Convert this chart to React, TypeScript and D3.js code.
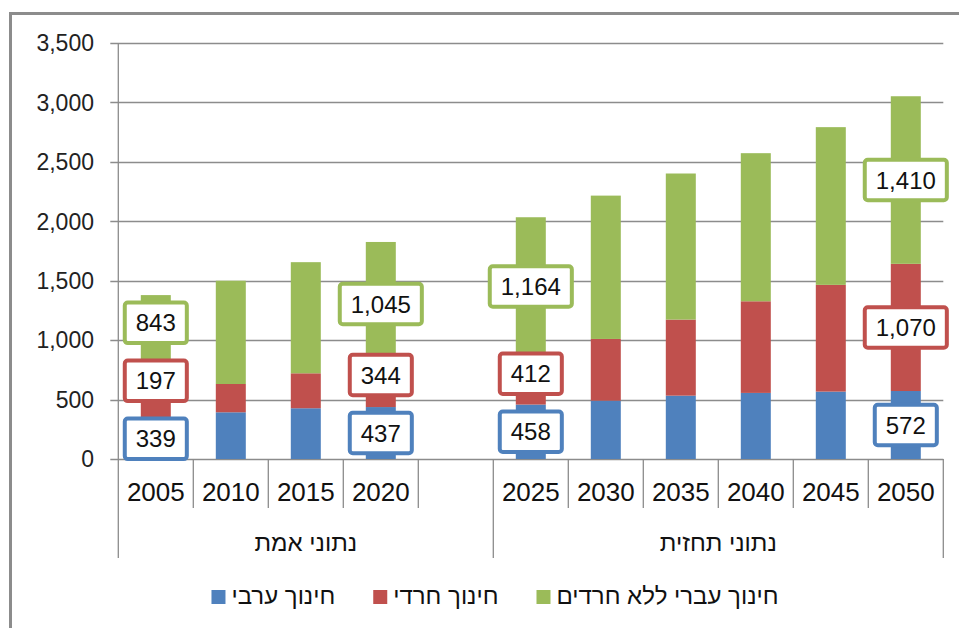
import React, { useEffect, useRef } from "react";
import * as d3 from "d3";

// categories ("" = empty slot between the two groups)
const years = ["2005", "2010", "2015", "2020", "", "2025", "2030", "2035", "2040", "2045", "2050"];
const arabEdu = [339, 393, 427, 437, null, 458, 491, 533, 556, 567, 572];
const harediEdu = [197, 238, 294, 344, null, 412, 519, 640, 771, 898, 1070];
const hebrewEdu = [843, 869, 935, 1045, null, 1164, 1206, 1229, 1246, 1327, 1410];
const labeledYears = ["2005", "2020", "2025", "2050"];

const groupNames = ["נתוני אמת", "נתוני תחזית"];
const groupSizes = [5, 6];

const seriesNames = ["חינוך ערבי", "חינוך חרדי", "חינוך עברי ללא חרדים"];
const seriesColors = ["#4F81BD", "#C0504D", "#9BBB59"];
const yTicks = [0, 500, 1000, 1500, 2000, 2500, 3000, 3500];

const W = 959;
const H = 628;
const FONT = "'Liberation Sans', Arial, 'DejaVu Sans', sans-serif";

const App = () => {
  const ref = useRef<SVGSVGElement>(null);

  useEffect(() => {
    const svg = d3.select(ref.current);
    svg.selectAll("*").remove();

    const left = 118.3;
    const right = 943.3;
    const top = 43;
    const bottom = 459;

    const y = d3.scaleLinear().domain([0, 3500]).range([bottom, top]);
    const x = d3
      .scaleBand<number>()
      .domain(d3.range(years.length))
      .range([left, right])
      .paddingInner(0.6)
      .paddingOuter(0.3);
    const step = x.step();
    const fmt = d3.format(",");
    const grey = "#8c8c8c";

    // outer frame
    svg
      .append("rect")
      .attr("x", 10.5)
      .attr("y", 13.5)
      .attr("width", W + 20)
      .attr("height", H + 20)
      .attr("fill", "white")
      .attr("stroke", grey)
      .attr("stroke-width", 3);

    // gridlines + y labels
    yTicks.forEach((t) => {
      svg
        .append("line")
        .attr("x1", left - 8)
        .attr("x2", right)
        .attr("y1", Math.round(y(t)) + 0.5)
        .attr("y2", Math.round(y(t)) + 0.5)
        .attr("stroke", grey)
        .attr("stroke-width", 1.3);
      svg
        .append("text")
        .attr("x", 94)
        .attr("y", y(t))
        .attr("dy", "0.36em")
        .attr("text-anchor", "end")
        .style("font-family", FONT)
        .style("font-size", "23px")
        .style("fill", "#222")
        .text(fmt(t));
    });

    // stacked bars
    const series = [arabEdu, harediEdu, hebrewEdu];
    years.forEach((yr, i) => {
      if (arabEdu[i] == null) return;
      let base = 0;
      series.forEach((s, k) => {
        const v = s[i] as number;
        svg
          .append("rect")
          .attr("x", x(i)!)
          .attr("width", x.bandwidth())
          .attr("y", y(base + v))
          .attr("height", y(base) - y(base + v))
          .attr("fill", seriesColors[k]);
        base += v;
      });
    });

    // y axis line (extends down through category rows)
    svg
      .append("line")
      .attr("x1", left)
      .attr("x2", left)
      .attr("y1", top)
      .attr("y2", 558)
      .attr("stroke", grey)
      .attr("stroke-width", 1.3);

    // category separators
    let acc = 0;
    const groupEdges = [0];
    groupSizes.forEach((g) => {
      acc += g;
      groupEdges.push(acc);
    });
    d3.range(1, years.length).forEach((i) => {
      const long = groupEdges.includes(i);
      svg
        .append("line")
        .attr("x1", left + i * step)
        .attr("x2", left + i * step)
        .attr("y1", bottom)
        .attr("y2", long ? 558 : 508)
        .attr("stroke", grey)
        .attr("stroke-width", 1.3);
    });
    svg
      .append("line")
      .attr("x1", right)
      .attr("x2", right)
      .attr("y1", bottom)
      .attr("y2", 558)
      .attr("stroke", grey)
      .attr("stroke-width", 1.3);

    // category labels
    years.forEach((yr, i) => {
      svg
        .append("text")
        .attr("x", x(i)! + x.bandwidth() / 2)
        .attr("y", 501)
        .attr("text-anchor", "middle")
        .style("font-family", FONT)
        .style("font-size", "26px")
        .style("fill", "#111")
        .text(yr);
    });

    // group labels
    groupNames.forEach((g, gi) => {
      const x0 = left + groupEdges[gi] * step;
      const x1 = left + groupEdges[gi + 1] * step;
      svg
        .append("text")
        .attr("x", (x0 + x1) / 2)
        .attr("y", 551)
        .attr("text-anchor", "middle")
        .style("font-family", FONT)
        .style("font-size", "24px")
        .style("fill", "#111")
        .text(g);
    });

    // data labels
    labeledYears.forEach((yr) => {
      const i = years.indexOf(yr);
      const vals = series.map((s) => s[i] as number);
      const cx = x(i)! + x.bandwidth() / 2;
      const centers: number[] = [];
      let base = 0;
      vals.forEach((v, k) => {
        let c = y(base + v / 2);
        if (k > 0) c = Math.min(c, centers[k - 1] - 58);
        centers.push(c);
        base += v;
      });
      vals.forEach((v, k) => {
        const g = svg.append("g");
        const rect = g.append("rect");
        const txt = g
          .append("text")
          .attr("x", cx)
          .attr("y", centers[k])
          .attr("dy", "0.36em")
          .attr("text-anchor", "middle")
          .style("font-family", FONT)
          .style("font-size", "24px")
          .style("fill", "#111")
          .text(fmt(v));
        const tw = (txt.node() as SVGTextElement).getComputedTextLength();
        const bw = tw + 22;
        const bh = 40.5;
        rect
          .attr("x", cx - bw / 2)
          .attr("y", centers[k] - bh / 2)
          .attr("width", bw)
          .attr("height", bh)
          .attr("rx", 3)
          .attr("fill", "white")
          .attr("stroke", seriesColors[k])
          .attr("stroke-width", 4);
      });
    });

    // legend
    const lg = svg.append("g");
    let lx = 0;
    seriesNames.forEach((name, k) => {
      lg.append("rect")
        .attr("x", lx)
        .attr("y", 590)
        .attr("width", 14)
        .attr("height", 14)
        .attr("fill", seriesColors[k]);
      const t = lg
        .append("text")
        .attr("x", lx + 20)
        .attr("y", 604)
        .style("font-family", FONT)
        .style("font-size", "24px")
        .style("fill", "#111")
        .text(name);
      const tw = (t.node() as SVGTextElement).getComputedTextLength();
      lx += 20 + tw + (k < seriesNames.length - 1 ? 38 : 0);
    });
    lg.attr("transform", `translate(${495 - lx / 2},0)`);
  }, []);

  return (
    <div style={{ position: "absolute", left: 0, top: 0 }}>
      <svg ref={ref} width={W} height={H} style={{ display: "block" }} />
    </div>
  );
};

export default App;
